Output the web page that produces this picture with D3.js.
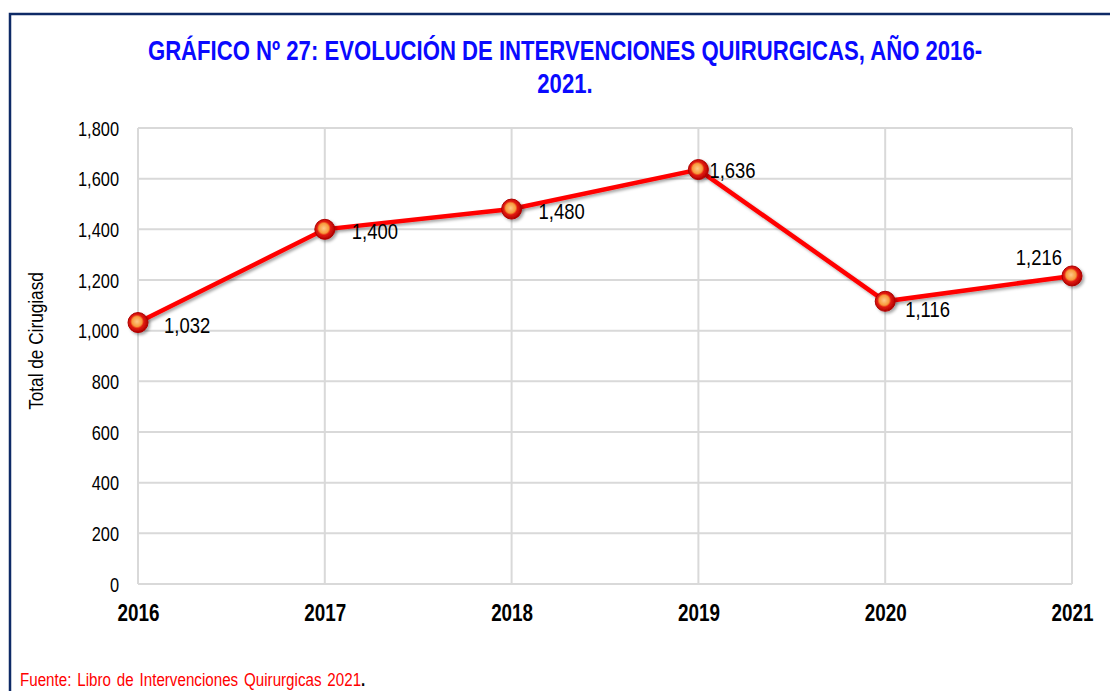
<!DOCTYPE html>
<html lang="es">
<head>
  <meta charset="utf-8"/>
  <title>Intervenciones quirurgicas 2016-2021</title>
  <script src="https://cdn.jsdelivr.net/npm/d3@7/dist/d3.min.js"></script>
  <style>
    html, body { margin:0; padding:0; background:#fff; overflow:hidden; }
    svg { display:block; font-family:"Liberation Sans","Arial",sans-serif; }
  </style>
</head>
<body>
<svg width="1110" height="691"></svg>
<script>
  // datos del gráfico
  const years  = ["2016","2017","2018","2019","2020","2021"];
  const values = [1032, 1400, 1480, 1636, 1116, 1216];
  const yTicks = [0, 200, 400, 600, 800, 1000, 1200, 1400, 1600, 1800];
  // posición de la etiqueta relativa al punto: [dx, dy(base), anchor]
  const labelPos = [[26, 10, "start"], [27, 10, "start"], [27, 10, "start"],
                    [11, 8, "start"], [20, 16, "start"], [-10, -11, "end"]];

  const W = 1110, H = 691;
  const NARROW = 0.82;   // imita Arial Narrow
  const m = { left:138, right:1072, top:128, bottom:584 };
  const svg = d3.select("svg");
  const fmt = d3.format(",");

  // texto "estrecho": posición vía translate, luego escala horizontal
  function narrow(sel, x, y) {
    return sel.attr("transform", `translate(${x},${y}) scale(${NARROW},1)`);
  }

  const defs = svg.append("defs");
  const grad = defs.append("radialGradient").attr("id","dot")
    .attr("cx","45%").attr("cy","45%").attr("r","55%");
  grad.append("stop").attr("offset","0%").attr("stop-color","#ffc98a");
  grad.append("stop").attr("offset","45%").attr("stop-color","#f79a3c");
  grad.append("stop").attr("offset","62%").attr("stop-color","#e31b10");
  grad.append("stop").attr("offset","100%").attr("stop-color","#b00000");
  const sh = defs.append("filter").attr("id","shadow")
    .attr("x","-50%").attr("y","-50%").attr("width","200%").attr("height","200%");
  sh.append("feDropShadow").attr("dx",2).attr("dy",2).attr("stdDeviation",1.5)
    .attr("flood-color","#000").attr("flood-opacity",0.35);

  // marco
  svg.append("rect").attr("x",10).attr("y",14).attr("width",W+20).attr("height",H+20)
    .attr("fill","none").attr("stroke","#0e2a66").attr("stroke-width",2.5);

  // título
  narrow(svg.append("text"), 565, 60).attr("text-anchor","middle")
    .attr("fill","#0a0aff").attr("font-weight","bold").attr("font-size",27)
    .text("GRÁFICO Nº 27: EVOLUCIÓN DE INTERVENCIONES QUIRURGICAS, AÑO 2016-");
  narrow(svg.append("text"), 565, 93).attr("text-anchor","middle")
    .attr("fill","#0a0aff").attr("font-weight","bold").attr("font-size",27)
    .text("2021.");

  const x = d3.scalePoint().domain(years).range([m.left, m.right]);
  const y = d3.scaleLinear().domain([0, 1800]).range([m.bottom, m.top]);

  // rejilla
  const grid = svg.append("g").attr("stroke","#d9d9d9").attr("stroke-width",2);
  grid.selectAll(".h").data(yTicks).join("line")
    .attr("x1",m.left).attr("x2",m.right)
    .attr("y1",d=>y(d)).attr("y2",d=>y(d));
  grid.selectAll(".v").data(years).join("line")
    .attr("x1",d=>x(d)).attr("x2",d=>x(d))
    .attr("y1",m.top).attr("y2",m.bottom);

  // eje y
  const yAxis = svg.append("g").attr("transform",`translate(${m.left - 19},0)`)
    .call(d3.axisLeft(y).tickValues(yTicks).tickFormat(fmt).tickSize(0).tickPadding(0));
  yAxis.select(".domain").remove();
  yAxis.selectAll("text").attr("x",0).attr("font-size",20).attr("fill","#000")
    .attr("font-family","inherit").attr("dy","0.35em")
    .attr("transform",`scale(${NARROW},1)`);

  // eje x
  const xAxis = svg.append("g").attr("transform",`translate(0,${m.bottom + 21})`)
    .call(d3.axisBottom(x).tickSize(0).tickPadding(0));
  xAxis.select(".domain").remove();
  xAxis.selectAll("text").attr("font-size",23).attr("font-weight","bold")
    .attr("fill","#000").attr("font-family","inherit").attr("dy","0.71em")
    .attr("transform",`scale(${NARROW},1)`);

  svg.append("text")
    .attr("transform",`translate(43,341) rotate(-90) scale(${NARROW},1)`)
    .attr("text-anchor","middle").attr("font-size",21).text("Total de Cirugiasd");

  // línea
  const line = d3.line().x((d,i)=>x(years[i])).y(d=>y(d));
  svg.append("path").datum(values).attr("d",line)
    .attr("fill","none").attr("stroke","#ff0000").attr("stroke-width",4.5)
    .attr("filter","url(#shadow)");

  svg.append("g").selectAll("circle").data(values).join("circle")
    .attr("cx",(d,i)=>x(years[i])).attr("cy",d=>y(d)).attr("r",10)
    .attr("fill","url(#dot)").attr("stroke","#b00000").attr("stroke-width",1)
    .attr("filter","url(#shadow)");

  svg.append("g").selectAll("text").data(values).join("text")
    .attr("transform",(d,i)=>`translate(${x(years[i]) + labelPos[i][0]},${y(d) + labelPos[i][1]}) scale(${NARROW},1)`)
    .attr("text-anchor",(d,i)=>labelPos[i][2])
    .attr("font-size",22.5).attr("fill","#000")
    .text(d=>fmt(d));

  // fuente
  const src = narrow(svg.append("text"), 20, 686).attr("font-size",18.5)
    .attr("word-spacing",2);
  src.append("tspan").attr("fill","#ff0000").text("Fuente: Libro de Intervenciones Quirurgicas 2021");
  src.append("tspan").attr("fill","#000").attr("font-weight","bold").text(".");
</script>
</body>
</html>
